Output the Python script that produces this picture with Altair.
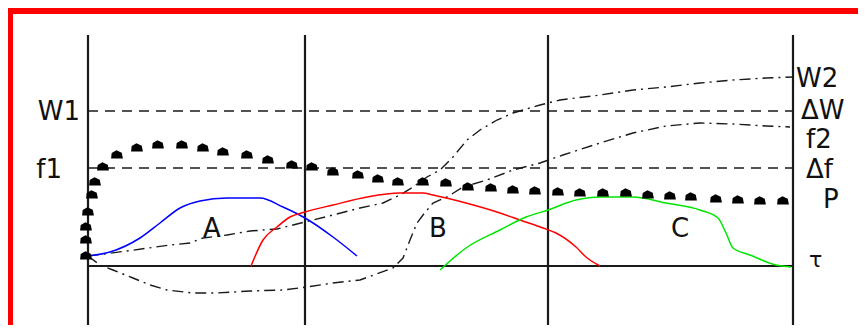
import altair as alt
import pandas as pd

# ---- data (x: time offset, y: level above the tau axis) ----
stage_x = [0, 217, 460, 705]          # vertical stage boundaries
stage_top = 231
stage_bottom = -59

axis_level = [0]                       # tau axis
dash_levels = [155, 98]                # W1/ΔW and f1/Δf
line_start, line_end = 0, 705

A_x = [0, 22, 52, 72, 92, 112, 139, 172, 195, 217, 245, 269]
A_y = [10, 14, 28, 43, 58, 65, 68, 68, 59, 48, 29, 10]

B_x = [163, 175, 189, 202, 217, 245, 279, 312, 335, 345, 378, 412, 432, 455, 468, 488, 498, 512]
B_y = [0, 26, 39, 49, 54, 61, 69, 73, 73, 71, 63, 53, 46, 38, 33, 19, 9, 0]

C_x = [352, 378, 412, 438, 460, 488, 512, 545, 578, 612, 630, 638, 645, 662, 688, 703]
C_y = [-4, 18, 36, 49, 56, 66, 69, 69, 63, 56, 48, 33, 18, 11, 1, -1]

P_x = [-2, -2, -2, 0, 4, 7, 15, 29, 49, 70, 94, 115, 135, 159, 180, 204, 224, 245, 270, 290,
       310, 335, 358, 380, 403, 425, 447, 470, 492, 515, 538, 560, 582, 603, 628, 650, 672, 695]
P_y = [10, 26, 39, 54, 71, 84, 99, 111, 118, 121, 121, 118, 114, 111, 106, 101, 99, 94, 91, 87,
       84, 84, 83, 79, 78, 76, 75, 74, 73, 73, 73, 71, 70, 69, 67, 66, 65, 65]

W_x = [0, 39, 82, 102, 115, 139, 162, 189, 217, 245, 272, 295, 312, 325, 339, 352, 365, 379,
       392, 409, 425, 452, 472, 512, 545, 578, 612, 645, 678, 705]
W_y = [10, 15, 21, 23, 28, 31, 35, 37, 44, 51, 58, 63, 71, 79, 89, 96, 109, 126,
       136, 146, 153, 161, 166, 171, 176, 179, 183, 186, 188, 189]

F_x = [0, 12, 25, 45, 62, 79, 105, 129, 162, 195, 219, 245, 272, 305, 315, 322, 329, 335,
       345, 359, 375, 399, 425, 452, 475, 512, 545, 578, 612, 645, 678, 702]
F_y = [10, 1, -4, -12, -19, -24, -27, -27, -25, -24, -21, -17, -14, -2, 8, 26, 43, 51,
       63, 69, 79, 86, 96, 103, 111, 123, 133, 140, 143, 142, 140, 139]

left_labels = ["W1", "f1"]
left_x = [-8, -26]
left_y = [146, 88]

curve_labels = ["A", "B", "C"]
curve_label_x = [124, 350, 592]
curve_label_y = [29, 29, 29]

right_labels = ["W2", "ΔW", "f2", "Δf", "P"]
right_x = [708, 713, 718, 718, 735]
right_y = [179, 147, 118, 88, 58]

tau_label = ["τ"]
tau_x = [721]
tau_y = [-1]

# ---- chart ----
W, H = 850, 317
xs = alt.Scale(domain=[-80, 770], nice=False, zero=False)
ys = alt.Scale(domain=[-59, 258], nice=False, zero=False)
X = lambda f: alt.X(f, type="quantitative", scale=xs, axis=None)
Y = lambda f: alt.Y(f, type="quantitative", scale=ys, axis=None)


def curve(xv, yv, color, dash=None, width=1.5, interp="linear"):
    df = pd.DataFrame({"u": xv, "v": yv, "i": list(range(len(xv)))})
    kw = dict(color=color, strokeWidth=width, interpolate=interp)
    if dash is not None:
        kw["strokeDash"] = dash
    return alt.Chart(df).mark_line(**kw).encode(x=X("u"), y=Y("v"), order="i:Q")


stages = alt.Chart(pd.DataFrame({"u": stage_x, "t": [stage_top] * 4, "b": [stage_bottom] * 4})).mark_rule(
    color="#1a1a1a", strokeWidth=2.2
).encode(x=X("u"), y=Y("t"), y2="b")

tau_axis = alt.Chart(pd.DataFrame({"v": axis_level, "a": [line_start], "b": [line_end]})).mark_rule(
    color="#1a1a1a", strokeWidth=1.8
).encode(y=Y("v"), x=X("a"), x2="b")

dashed = alt.Chart(pd.DataFrame({"v": dash_levels, "a": [line_start] * 2, "b": [line_end] * 2})).mark_rule(
    color="#1a1a1a", strokeWidth=1.5, strokeDash=[10, 7]
).encode(y=Y("v"), x=X("a"), x2="b")

dashdot = [11, 5, 2, 5]
lineA = curve(A_x, A_y, "#0000ff", interp="monotone")
lineB = curve(B_x, B_y, "#ff0000", interp="monotone")
lineC = curve(C_x, C_y, "#00e600", interp="monotone")
lineW = curve(W_x, W_y, "#1a1a1a", dashdot, 1.4)
lineF = curve(F_x, F_y, "#1a1a1a", dashdot, 1.4)

blob = "M-1,0.6 L-0.9,-0.35 L-0.1,-0.8 L0.8,-0.4 L1,0.6 Z"
dotsP = alt.Chart(pd.DataFrame({"u": P_x, "v": P_y})).mark_point(
    filled=True, color="black", opacity=1, size=140, shape=blob
).encode(x=X("u"), y=Y("v"))


def labels(txt, xv, yv, align, size=26):
    df = pd.DataFrame({"t": txt, "u": xv, "v": yv})
    return alt.Chart(df).mark_text(
        align=align, baseline="alphabetic", font="DejaVu Sans", fontSize=size, color="#111111"
    ).encode(x=X("u"), y=Y("v"), text="t:N")


lab_left = labels(left_labels, left_x, left_y, "right")
lab_curves = labels(curve_labels, curve_label_x, curve_label_y, "center")
lab_right = labels(right_labels, right_x, right_y, "left")
lab_tau = labels(tau_label, tau_x, tau_y, "left", 22)

frame_left = alt.Chart(pd.DataFrame({"k": [0]})).mark_rule(color="#ff0000", strokeWidth=5).encode(
    x=alt.value(2.5), y=alt.value(0), y2=alt.value(H)
)
frame_top = alt.Chart(pd.DataFrame({"k": [0]})).mark_rule(color="#ff0000", strokeWidth=6).encode(
    y=alt.value(3), x=alt.value(0), x2=alt.value(W)
)

chart = alt.layer(
    dashed, tau_axis, stages, lineW, lineF, lineA, lineB, lineC, dotsP,
    lab_left, lab_curves, lab_right, lab_tau, frame_left, frame_top
).properties(
    width=W, height=H,
    autosize=alt.AutoSizeParams(type="none"),
    padding={"left": 0, "top": 0, "right": 0, "bottom": 0},
).configure_view(stroke=None)

chart.save("out.html", embed_options={"renderer": "svg", "actions": False})
